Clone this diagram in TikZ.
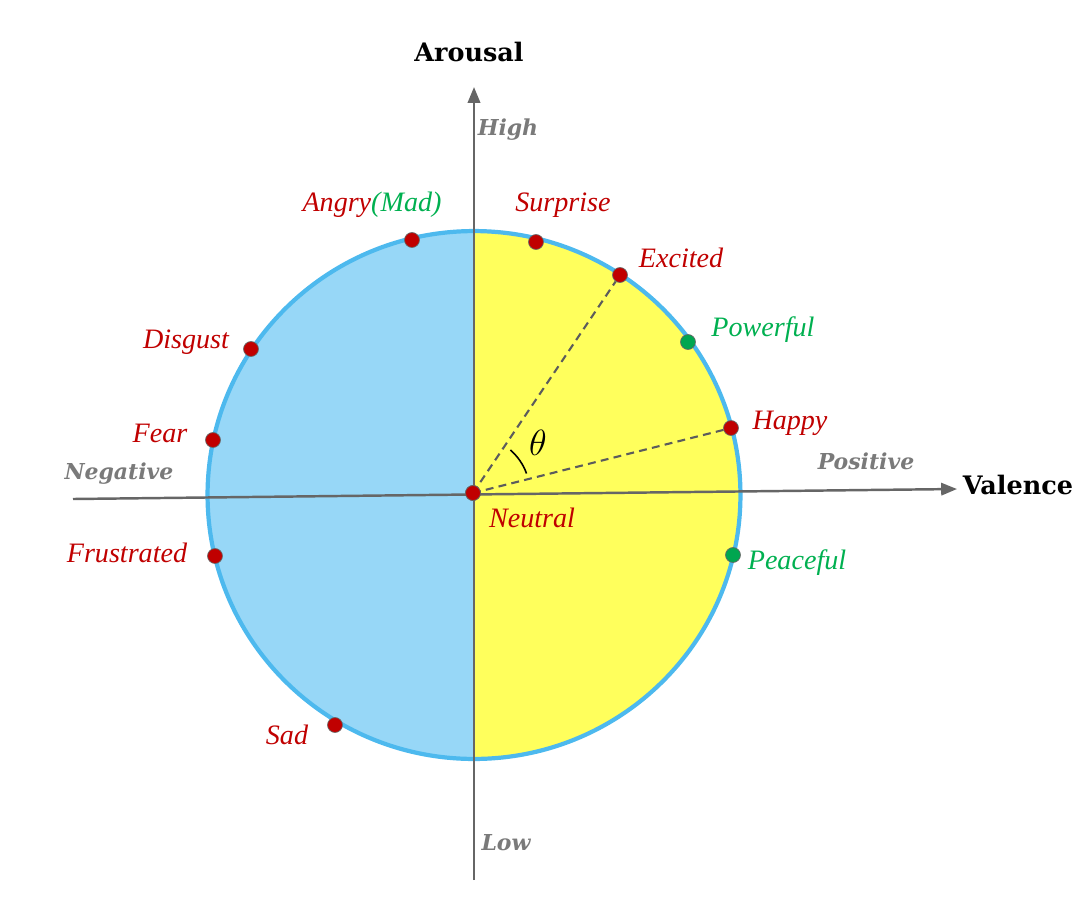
\documentclass[tikz,border=0pt]{standalone}
\usepackage{fontspec}
\setmainfont{Liberation Serif}
\newfontfamily\slab{DejaVu Serif}
\usetikzlibrary{arrows.meta}
\definecolor{lblue}{HTML}{97D7F7}
\definecolor{rimblue}{HTML}{4DB9EE}
\definecolor{yel}{HTML}{FFFF5C}
\definecolor{dred}{HTML}{C00000}
\definecolor{dgreen}{HTML}{00B050}
\definecolor{ptred}{HTML}{C00000}
\definecolor{ptgreen}{HTML}{00A650}
\definecolor{axgray}{HTML}{666666}
\definecolor{lblgray}{HTML}{7A7A7A}
\tikzset{
  dotred/.style={circle,inner sep=0pt,minimum size=8.5pt,fill=ptred,draw=black!60,line width=0.4pt},
  dotgreen/.style={circle,inner sep=0pt,minimum size=8.5pt,fill=ptgreen,draw=black!60,line width=0.4pt},
  emo/.style={font=\fontsize{16}{18}\selectfont\itshape,text=dred,inner sep=0pt},
  emog/.style={emo,text=dgreen},
  axlbl/.style={font=\slab\fontsize{12.5}{14}\selectfont\bfseries\itshape,text=lblgray,inner sep=0pt},
  axname/.style={font=\slab\fontsize{14.5}{16}\selectfont\bfseries,text=black,inner sep=0pt},
  axis/.style={draw=axgray,line width=1.4pt,-{Triangle[length=9pt,width=7pt]}},
  radline/.style={draw=axgray!90!black,line width=1.2pt,dash pattern=on 4.5pt off 3pt}
}
\begin{document}
\begin{tikzpicture}[x=0.02cm,y=-0.02cm]
\useasboundingbox (0,0) rectangle (1080,914);
\coordinate (c) at (474,495);
% halves
\begin{scope}
  \clip (0,0) rectangle (474,914);
  \fill[lblue] (c) ellipse [x radius=5.33cm, y radius=5.28cm];
\end{scope}
\begin{scope}
  \clip (474,0) rectangle (1080,914);
  \fill[yel] (c) ellipse [x radius=5.33cm, y radius=5.28cm];
\end{scope}
\draw[rimblue,line width=2.4pt] (c) ellipse [x radius=5.33cm, y radius=5.28cm];
% axes
\coordinate (hl) at (73,499);
\coordinate (hr) at (957,489);
\coordinate (vb) at (474,880);
\coordinate (vt) at (474,87);
\draw[axis] (hl) -- (hr);
\draw[axis] (vb) -- (vt);
% dots
\node[dotred] (neutral) at (473,493) {};
\node[dotred] (angry) at (412,240) {};
\node[dotred] (surprise) at (536,242) {};
\node[dotred] (excited) at (620,275) {};
\node[dotgreen] (powerful) at (688,342) {};
\node[dotred] (happy) at (731,428) {};
\node[dotgreen] (peaceful) at (733,555) {};
\node[dotred] (disgust) at (251,349) {};
\node[dotred] (fear) at (213,440) {};
\node[dotred] (frustrated) at (215,556) {};
\node[dotred] (sad) at (335,725) {};
% dashed radii
\draw[radline] (neutral.center) -- (excited);
\draw[radline] (neutral.center) -- (happy);
\node[dotred] at (473,493) {};
% theta arc
\draw[black,line width=0.9pt] (473,493) ++(49:1.14cm) arc[start angle=49,end angle=20,radius=1.14cm];
\node[font=\fontsize{20}{22}\selectfont,inner sep=0pt] (theta) at (538,443) {$\theta$};
% labels
\node[emo] (lAngry) at (372,205) {Angry\textcolor{dgreen}{(Mad)}};
\node[emo] (lSurprise) at (563,205) {Surprise};
\node[emo] (lExcited) at (681,258) {Excited};
\node[emog] (lPowerful) at (763,330) {Powerful};
\node[emo] (lHappy) at (790,423) {Happy};
\node[emog] (lPeaceful) at (797,563) {Peaceful};
\node[emo] (lNeutral) at (532,518) {Neutral};
\node[emo] (lDisgust) at (186,342) {Disgust};
\node[emo] (lFear) at (160,433) {Fear};
\node[emo] (lFrustrated) at (127,553) {Frustrated};
\node[emo] (lSad) at (287,735) {Sad};
\node[axlbl] (lPositive) at (866,461) {Positive};
\node[axlbl] (lNegative) at (119,474) {Negative};
\node[axlbl] (lHigh) at (508,130) {High};
\node[axlbl] (lLow) at (506,843) {Low};
\node[axname] (lArousal) at (469,52) {Arousal};
\node[axname] (lValence) at (1018,485) {Valence};
\end{tikzpicture}
\end{document}
